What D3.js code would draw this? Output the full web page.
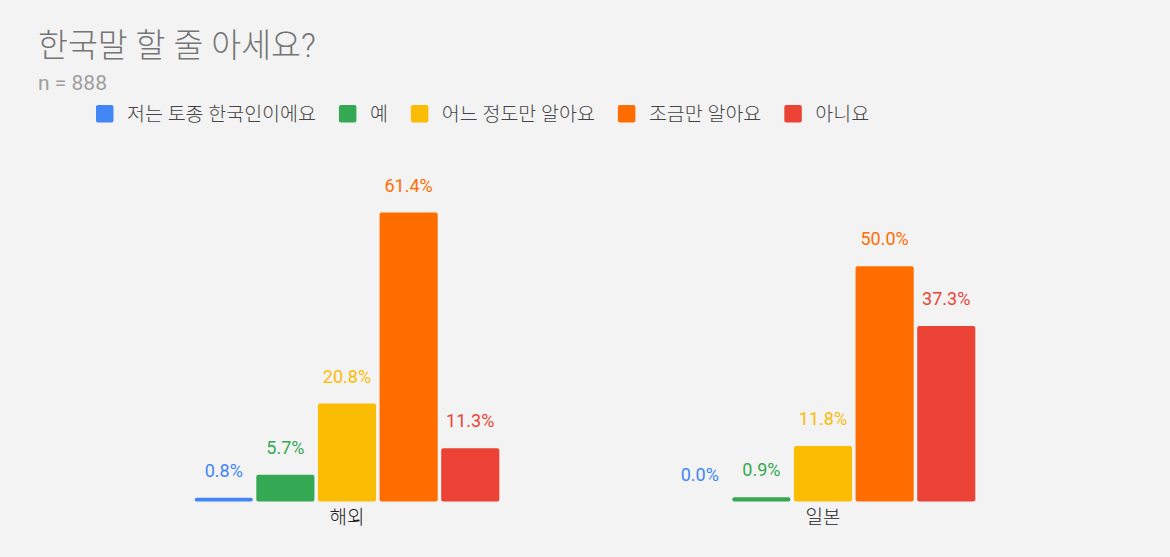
<!DOCTYPE html>
<html>
<head>
<meta charset="utf-8">
<script src="https://cdn.jsdelivr.net/npm/d3@7"></script>
<style>
  body { margin: 0; background: #f3f3f3; }
  svg { font-family: Roboto, "Noto Sans CJK KR", sans-serif; display: block; }
</style>
</head>
<body>
<div id="chart"></div>
<script>
const svgWidth = 1170;
const svgHeight = 557;

// data
const groups = ["해외", "일본"];
const series = ["저는 토종 한국인이에요", "예", "어느 정도만 알아요", "조금만 알아요", "아니요"];
const colors = ["#4285f4", "#34a853", "#fbbc04", "#ff6d01", "#ea4335"];
const valuesOverseas = [0.8, 5.7, 20.8, 61.4, 11.3];
const valuesJapan = [0.0, 0.9, 11.8, 50.0, 37.3];
const titleText = "한국말 할 줄 아세요?";
const subtitleText = "n = 888";

const rows = [valuesOverseas, valuesJapan];

document.addEventListener("DOMContentLoaded", function(){
  drawChart();
});

function drawChart(){
  const svg = d3.select("#chart")
    .append("svg")
    .attr("width", svgWidth)
    .attr("height", svgHeight);

  svg.append("rect")
    .attr("width", svgWidth)
    .attr("height", svgHeight)
    .attr("fill", "#f3f3f3");

  // title + subtitle
  svg.append("text")
    .attr("x", 38)
    .attr("y", 57)
    .attr("font-size", 32.5)
    .attr("font-weight", 300)
    .attr("fill", "#757575")
    .text(titleText);

  svg.append("text")
    .attr("x", 38)
    .attr("y", 90)
    .attr("font-size", 21)
    .attr("fill", "#9e9e9e")
    .text(subtitleText);

  // legend
  const legend = svg.append("g");
  let lx = 96;
  series.forEach(function(name, i){
    legend.append("rect")
      .attr("x", lx)
      .attr("y", 105)
      .attr("width", 17.5)
      .attr("height", 17.5)
      .attr("rx", 2)
      .attr("fill", colors[i]);
    const t = legend.append("text")
      .attr("x", lx + 31)
      .attr("y", 120.5)
      .attr("font-size", 19.5)
      .attr("font-weight", 300)
      .attr("fill", "#444")
      .text(name);
    lx += 31 + t.node().getComputedTextLength() + 23;
  });

  // scales
  const x0 = d3.scaleBand()
    .domain(groups)
    .range([109, 1061])
    .paddingInner(0.36)
    .paddingOuter(0.18);

  const x1 = d3.scaleBand()
    .domain(series)
    .range([0, x0.bandwidth()])
    .paddingInner(0.057);

  const yscale = d3.scaleLinear()
    .domain([0, 70])
    .range([501.5, 501.5 - 329.4]);

  const xaxis = d3.axisBottom(x0).tickSize(0).tickPadding(9);
  const ax = svg.append("g")
    .attr("transform", "translate(0," + yscale(0) + ")")
    .call(xaxis);
  ax.select(".domain").remove();
  ax.selectAll("text")
    .attr("font-size", 19)
    .attr("font-weight", 300)
    .attr("fill", "#222")
    .attr("font-family", "Roboto, 'Noto Sans CJK KR', sans-serif");

  // bars
  const g = svg.selectAll(".grp")
    .data(groups)
    .enter().append("g")
    .attr("class", "grp")
    .attr("transform", function(d){ return "translate(" + x0(d) + ",0)"; });

  g.selectAll("rect")
    .data(function(d, gi){ return series.map(function(s, i){ return {s: s, v: rows[gi][i], c: colors[i]}; }); })
    .enter().append("rect")
    .attr("x", function(d){ return x1(d.s); })
    .attr("y", function(d){ return yscale(d.v); })
    .attr("width", x1.bandwidth())
    .attr("height", function(d){ return yscale(0) - yscale(d.v); })
    .attr("rx", function(d){ return d.v > 0.5 ? 2 : 0; })
    .attr("fill", function(d){ return d.c; });

  g.selectAll(".lbl")
    .data(function(d, gi){ return series.map(function(s, i){ return {s: s, v: rows[gi][i], c: colors[i]}; }); })
    .enter().append("text")
    .attr("class", "lbl")
    .attr("x", function(d){ return x1(d.s) + x1.bandwidth() / 2; })
    .attr("y", function(d){ return yscale(d.v) - 21; })
    .attr("text-anchor", "middle")
    .attr("font-size", 18)
    .attr("fill", function(d){ return d.c; })
    .text(function(d){ return d.v.toFixed(1) + "%"; });
}
</script>
</body>
</html>
